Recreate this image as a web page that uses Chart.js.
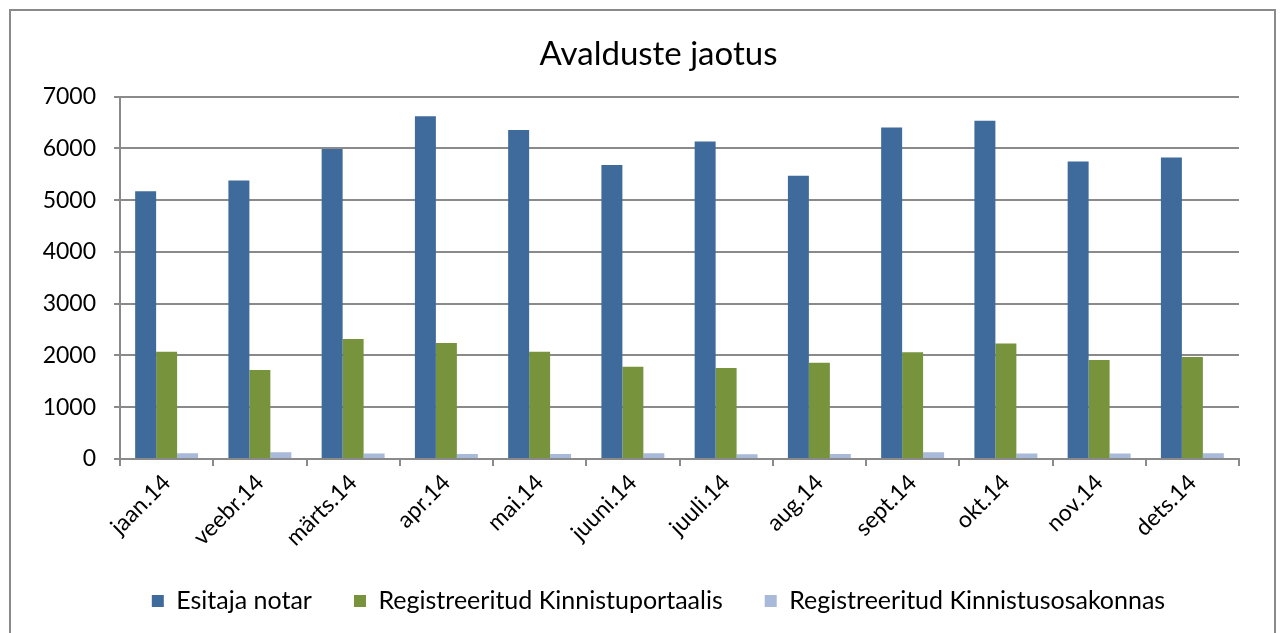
<!DOCTYPE html>
<html>
<head>
<meta charset="utf-8">
<script src="https://cdn.jsdelivr.net/npm/chart.js@4"></script>
<style>
  html, body { margin: 0; padding: 0; background: #fff; }
  #wrap { position: relative; width: 1287px; height: 633px; overflow: hidden; }
  #frame { position: absolute; left: 9px; top: 9px; width: 1267px; height: 700px; border: 2px solid #8a8a8a; box-sizing: border-box; }
  canvas { position: absolute; left: 0; top: 0; }
</style>
</head>
<body>
<div id="wrap">
  <div id="frame"></div>
  <canvas id="c" width="1287" height="633"></canvas>
</div>
<script>
const categories = ["jaan.14", "veebr.14", "märts.14", "apr.14", "mai.14", "juuni.14", "juuli.14", "aug.14", "sept.14", "okt.14", "nov.14", "dets.14"];
const seriesNames = ["Esitaja notar", "Registreeritud Kinnistuportaalis", "Registreeritud Kinnistusosakonnas"];
const esitajaNotar = [5170, 5380, 5990, 6620, 6355, 5680, 6135, 5470, 6405, 6535, 5745, 5825];
const kinnistuportaalis = [2070, 1720, 2320, 2240, 2070, 1780, 1760, 1860, 2060, 2230, 1910, 1970];
const kinnistusosakonnas = [110, 130, 105, 95, 95, 110, 90, 95, 130, 105, 105, 110];
const yTicks = [0, 1000, 2000, 3000, 4000, 5000, 6000, 7000];
const chartTitle = "Avalduste jaotus";

const colors = ["#3f6a9c", "#77933c", "#a8b9d9"];
const FONT = "Lato, 'Liberation Sans', sans-serif";

new Chart(document.getElementById("c"), {
  type: "bar",
  data: {
    labels: categories,
    datasets: [esitajaNotar, kinnistuportaalis, kinnistusosakonnas].map((d, i) => ({
      label: seriesNames[i],
      data: d,
      backgroundColor: colors[i],
      borderWidth: 0,
      categoryPercentage: 0.675,
      barPercentage: 1.0
    }))
  },
  options: {
    responsive: false,
    animation: false,
    devicePixelRatio: 1,
    layout: { padding: { top: 0, left: 30, right: 0, bottom: 9.5 } },
    plugins: {
      title: {
        display: true,
        text: chartTitle,
        color: "#000",
        font: { family: FONT, size: 33, weight: "normal", lineHeight: 1.2 },
        padding: { top: 35, bottom: 22 }
      },
      legend: {
        position: "bottom",
        labels: {
          color: "#000",
          font: { family: FONT, size: 25 },
          boxWidth: 12,
          boxHeight: 12,
          padding: 42
        }
      },
      tooltip: { enabled: false }
    },
    scales: {
      x: {
        afterFit: (s) => { s.height = 87.5; },
        grid: { offset: true, drawOnChartArea: false, drawTicks: true, tickLength: 7, color: "#8a8a8a", lineWidth: 2 },
        border: { color: "#8a8a8a", width: 2 },
        ticks: {
          color: "#000",
          font: { family: FONT, size: 23 },
          minRotation: 45, maxRotation: 45,
          autoSkip: false,
          padding: 3
        }
      },
      y: {
        min: 0, max: 7000,
        afterFit: (s) => { s.width = 90; },
        afterBuildTicks: (s) => { s.ticks = yTicks.map(v => ({ value: v })); },
        grid: { color: "#8a8a8a", lineWidth: 2, drawTicks: true, tickLength: 6 },
        border: { color: "#8a8a8a", width: 2 },
        ticks: {
          color: "#000",
          font: { family: FONT, size: 23 },
          padding: 18,
          callback: (v) => String(v)
        }
      },
      yRightSpace: {
        position: "right",
        min: 0, max: 7000,
        afterFit: (s) => { s.width = 48; },
        grid: { display: false },
        border: { display: false },
        ticks: { display: false }
      }
    }
  }
});
</script>
</body>
</html>
